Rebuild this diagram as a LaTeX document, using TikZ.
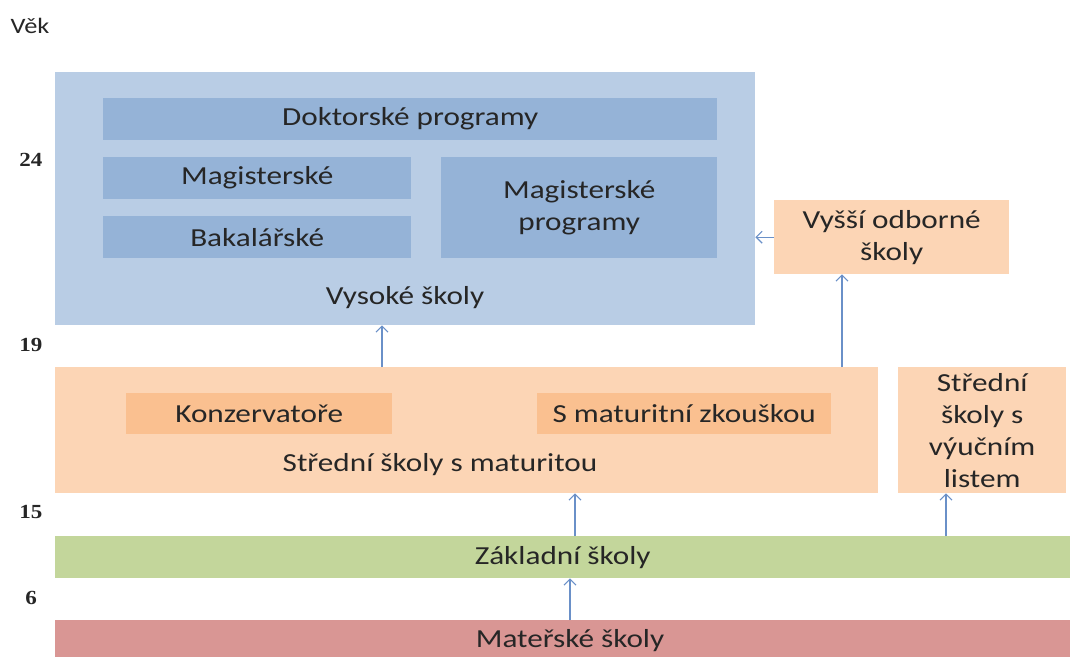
\documentclass[tikz,border=0pt]{standalone}
\usepackage{fontspec}
\setmainfont{Carlito}[FakeStretch=1.2]
\newfontfamily\agefont{Liberation Serif}[FakeStretch=1.15]
\usetikzlibrary{positioning, arrows.meta}
\definecolor{vsblue}{HTML}{B9CDE5}
\definecolor{progblue}{HTML}{95B3D7}
\definecolor{sslight}{HTML}{FCD5B5}
\definecolor{ssdark}{HTML}{FAC090}
\definecolor{zsgreen}{HTML}{C3D69B}
\definecolor{msred}{HTML}{D99694}
\definecolor{arrblue}{HTML}{6A90C8}
\definecolor{txt}{HTML}{262626}
\tikzset{
  blk/.style={anchor=north west, inner sep=0pt, text=txt, align=center},
  lbl/.style={text=txt, inner sep=0pt, align=center},
  age/.style={text=txt, inner sep=0pt, font=\agefont\bfseries\fontsize{20}{24}\selectfont},
  up/.style={-{Straight Barb[length=6pt, width=12pt]}, draw=arrblue, line width=1.1pt}
}
\begin{document}
\begin{tikzpicture}[x=1pt, y=-1pt, font=\fontsize{26}{32}\selectfont]
\useasboundingbox (0,0) rectangle (1070,656);
\clip (0,0) rectangle (1070,656);
% vek
\node[lbl, font=\fontsize{22}{26}\selectfont] (vek) at (30,26) {Věk};
\node[age] (a24) at (31,160) {24};
\node[age] (a19) at (31,345) {19};
\node[age] (a15) at (31,512) {15};
\node[age] (a6) at (31,598) {6};
% vysoke skoly
\node[blk, fill=vsblue, minimum width=700pt, minimum height=253pt] (vs) at (55,72) {};
\node[blk, fill=progblue, minimum width=614pt, minimum height=42pt] (dok) at (103,98) {Doktorské programy};
\node[blk, fill=progblue, minimum width=308pt, minimum height=42pt] (mag) at (103,157) {Magisterské};
\node[blk, fill=progblue, minimum width=308pt, minimum height=42pt] (bak) at (103,216) {Bakalářské};
\node[blk, fill=progblue, minimum width=276pt, minimum height=101pt] (magp) at (441,157) {Magisterské\\programy};
\node[lbl] (vstxt) at (405,298) {Vysoké školy};
% vyssi odborne
\node[blk, fill=sslight, minimum width=235pt, minimum height=74pt] (vos) at (774,200) {Vyšší odborné\\školy};
% stredni skoly
\node[blk, fill=sslight, minimum width=823pt, minimum height=126pt] (ssm) at (55,367) {};
\node[blk, fill=ssdark, minimum width=266pt, minimum height=41pt] (kon) at (126,393) {Konzervatoře};
\node[blk, fill=ssdark, minimum width=294pt, minimum height=41pt] (smz) at (537,393) {S maturitní zkouškou};
\node[lbl] (ssmtxt) at (440,465) {Střední školy s maturitou};
\node[blk, fill=sslight, minimum width=168pt, minimum height=126pt] (ssv) at (898,367) {Střední\\školy s\\výučním\\listem};
% zakladni, materske
\node[blk, fill=zsgreen, minimum width=1015pt, minimum height=42pt] (zs) at (55,536) {Základní školy};
\node[blk, fill=msred, minimum width=1015pt, minimum height=50pt] (ms) at (55,620) {};
\node[lbl] (mstxt) at (570,641) {Mateřské školy};
% sipky
\draw[up] (vos.west) -- (vs.east |- vos.west);
\draw[up] (842,367) coordinate (c1) -- (c1 |- vos.south);
\draw[up] (382,367) coordinate (c2) -- (c2 |- vs.south);
\draw[up] (575,536) coordinate (c3) -- (c3 |- ssm.south);
\draw[up] (946,536) coordinate (c4) -- (c4 |- ssv.south);
\draw[up] (570,620) coordinate (c5) -- (c5 |- zs.south);
\end{tikzpicture}
\end{document}
